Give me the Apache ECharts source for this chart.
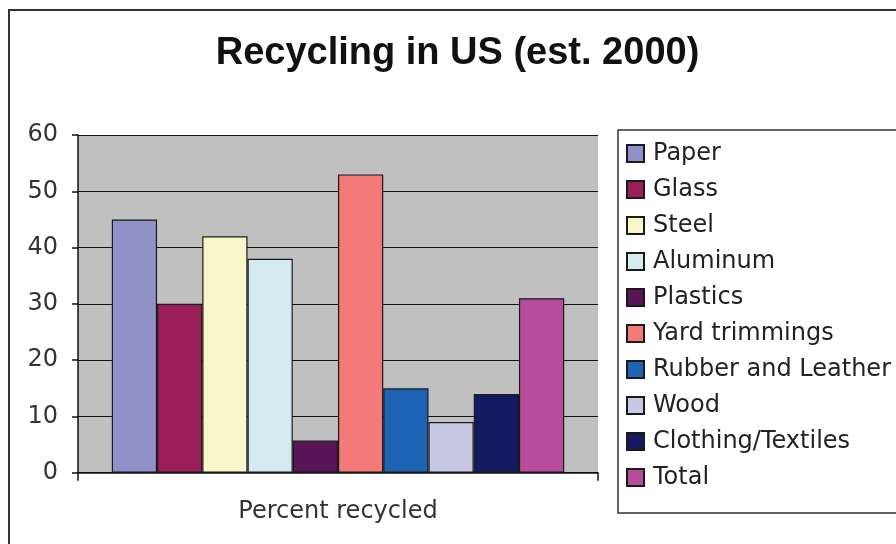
<!DOCTYPE html>
<html>
<head>
<meta charset="utf-8">
<script src="https://cdn.jsdelivr.net/npm/echarts@6/dist/echarts.min.js"></script>
<style>
html,body{margin:0;padding:0;background:#fff;}
#chart{width:896px;height:544px;}
</style>
</head>
<body>
<div id="chart"></div>
<script>
const titleText = 'Recycling in US (est. 2000)';
const categories = ['Percent recycled'];
const materials = ['Paper','Glass','Steel','Aluminum','Plastics','Yard trimmings','Rubber and Leather','Wood','Clothing/Textiles','Total'];
const percentRecycled = [45, 30, 42, 38, 5.7, 53, 15, 9, 14, 31];
const barColors = ['#9191c9','#9a1e5a','#faf6cc','#d2eaf0','#5a1458','#f47a7a','#1e64b4','#c8c8e4','#141a60','#b84c9c'];
const yTicks = [0, 10, 20, 30, 40, 50, 60];

const chart = echarts.init(document.getElementById('chart'));
const baseFont = 'DejaVu Sans';

const series = materials.map((name, i) => ({
  name: name,
  type: 'bar',
  data: [percentRecycled[i]],
  barGap: '0%',
  barCategoryGap: '13%',
  itemStyle: { color: barColors[i], borderColor: '#1a1a1a', borderWidth: 1.2 },
  emphasis: { disabled: true }
}));

chart.setOption({
  animation: false,
  backgroundColor: '#fff',
  graphic: [
    { type: 'rect', z: -1, shape: { x: 9, y: 10, width: 900, height: 560 },
      style: { fill: 'none', stroke: '#333', lineWidth: 2 } },
    { type: 'rect', z: -1, shape: { x: 618, y: 130, width: 300, height: 383 },
      style: { fill: '#fff', stroke: '#333', lineWidth: 1.5 } },
    { type: 'text', x: 457.5, y: 54,
      style: { text: titleText, textAlign: 'center', textVerticalAlign: 'middle',
        font: "bold 38px 'Liberation Sans', Arial, sans-serif", fill: '#111' } }
  ],
  legend: {
    orient: 'vertical',
    left: 621,
    top: 136.5,
    itemWidth: 17,
    itemHeight: 17,
    itemGap: 12,
    icon: 'rect',
    data: materials,
    selectedMode: false,
    textStyle: { fontFamily: baseFont, fontSize: 24, color: '#222', padding: [0, 0, 0, 4] }
  },
  grid: {
    left: 78, right: 298, top: 135, bottom: 71.3,
    show: true, backgroundColor: '#c0c0c0', borderWidth: 0
  },
  xAxis: {
    type: 'category',
    data: categories,
    axisLine: { lineStyle: { color: '#111', width: 1.5 } },
    axisTick: { show: true, length: 8, lineStyle: { color: '#111', width: 1.5 } },
    axisLabel: { margin: 27, fontFamily: baseFont, fontSize: 24, color: '#333' }
  },
  yAxis: {
    type: 'value',
    min: yTicks[0],
    max: yTicks[yTicks.length - 1],
    interval: 10,
    axisLine: { show: true, lineStyle: { color: '#111', width: 1.5 } },
    axisTick: { show: true, length: 6, lineStyle: { color: '#111', width: 1.5 } },
    splitLine: { lineStyle: { color: '#111', width: 1.2 } },
    axisLabel: { margin: 20, fontFamily: baseFont, fontSize: 24, color: '#333' }
  },
  series: series
});
</script>
</body>
</html>
